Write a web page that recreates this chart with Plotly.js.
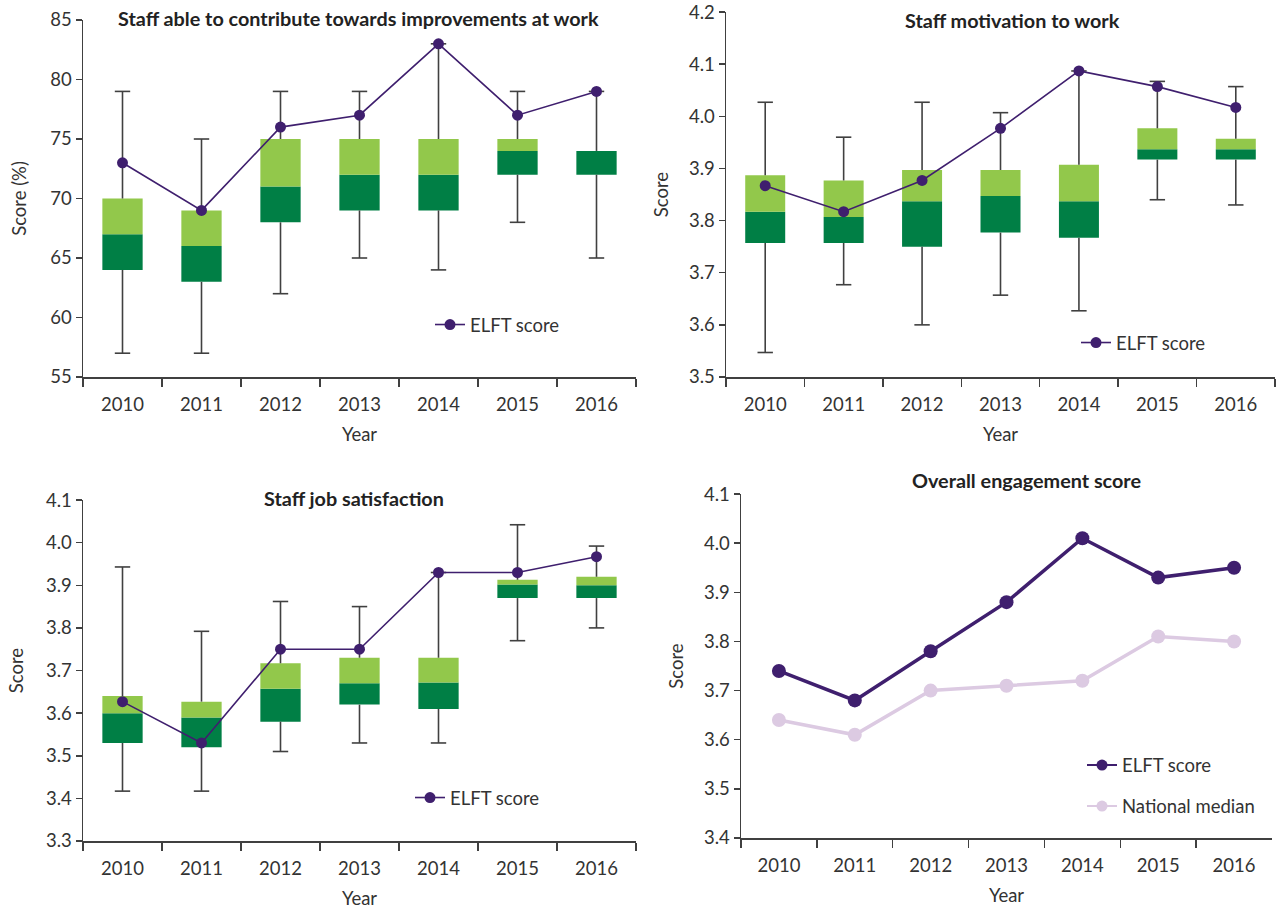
<!DOCTYPE html>
<html><head><meta charset="utf-8">
<script src="https://cdn.plot.ly/plotly-3.0.1.min.js"></script>
<style>html,body{margin:0;padding:0;background:#fff}</style>
</head><body><div id="chart" style="width:1287px;height:909px"></div>
<script>
// ---------- data ----------
const years = ['2010','2011','2012','2013','2014','2015','2016'];

// Panel 1: Staff able to contribute towards improvements at work (%)
const p1Elft = [73, 69, 76, 77, 83, 77, 79];
const p1Min  = [57, 57, 62, 65, 64, 68, 65];
const p1Q1   = [64, 63, 68, 69, 69, 72, 72];
const p1Med  = [67, 66, 71, 72, 72, 74, 74];
const p1Q3   = [70, 69, 75, 75, 75, 75, 74];
const p1Max  = [79, 75, 79, 79, 83, 79, 79];

// Panel 2: Staff motivation to work
const p2Elft = [3.867, 3.817, 3.877, 3.977, 4.087, 4.057, 4.017];
const p2Min  = [3.547, 3.677, 3.600, 3.657, 3.627, 3.840, 3.830];
const p2Q1   = [3.757, 3.757, 3.750, 3.777, 3.767, 3.917, 3.917];
const p2Med  = [3.817, 3.807, 3.837, 3.847, 3.837, 3.937, 3.937];
const p2Q3   = [3.887, 3.877, 3.897, 3.897, 3.907, 3.977, 3.957];
const p2Max  = [4.027, 3.960, 4.027, 4.007, 4.087, 4.067, 4.057];

// Panel 3: Staff job satisfaction
const p3Elft = [3.627, 3.530, 3.750, 3.750, 3.930, 3.930, 3.967];
const p3Min  = [3.417, 3.417, 3.510, 3.530, 3.530, 3.770, 3.800];
const p3Q1   = [3.530, 3.520, 3.580, 3.620, 3.610, 3.870, 3.870];
const p3Med  = [3.600, 3.590, 3.657, 3.670, 3.672, 3.902, 3.900];
const p3Q3   = [3.640, 3.627, 3.717, 3.730, 3.730, 3.913, 3.920];
const p3Max  = [3.943, 3.792, 3.862, 3.850, 3.930, 4.042, 3.992];

// Panel 4: Overall engagement score
const p4Elft     = [3.74, 3.68, 3.78, 3.88, 4.01, 3.93, 3.95];
const p4National = [3.64, 3.61, 3.70, 3.71, 3.72, 3.81, 3.80];

// ---------- styles ----------
const DARK_GREEN = '#007f45';
const LIGHT_GREEN = '#92c84b';
const PURPLE = '#3f1f6e';
const LAVENDER = '#dccae2';
const AXIS = '#404040';
const TEXT = '#333333';
const FONT = 'Lato, "Open Sans", sans-serif';
const FS = 18.5;

function boxTraces(n, q1, med, q3, mn, mx, elft, legendName) {
  const xa = n === 1 ? 'x' : 'x' + n;
  const ya = n === 1 ? 'y' : 'y' + n;
  const wx = [], wy = [];
  years.forEach((yr, i) => {
    wx.push(yr, yr, null, yr, yr, null);
    wy.push(mn[i], q1[i], null, q3[i], mx[i], null);
  });
  return [
    {type:'bar', x: years, base: q1, y: med.map((m,i)=>m-q1[i]), width:0.51,
     marker:{color:DARK_GREEN}, xaxis:xa, yaxis:ya, showlegend:false, hoverinfo:'skip'},
    {type:'bar', x: years, base: med, y: q3.map((m,i)=>m-med[i]), width:0.51,
     marker:{color:LIGHT_GREEN}, xaxis:xa, yaxis:ya, showlegend:false, hoverinfo:'skip'},
    {type:'scatter', mode:'lines', x: wx, y: wy, connectgaps:false,
     line:{color:AXIS, width:1.6}, xaxis:xa, yaxis:ya, showlegend:false, hoverinfo:'skip'},
    {type:'scatter', mode:'markers', x: years.concat(years), y: mn.concat(mx),
     marker:{symbol:'line-ew', size:11, line:{color:AXIS, width:1.6}},
     xaxis:xa, yaxis:ya, showlegend:false, hoverinfo:'skip'},
    {type:'scatter', mode:'lines+markers', x: years, y: elft, name:'ELFT score',
     line:{color:PURPLE, width:1.6}, marker:{color:PURPLE, size:11},
     xaxis:xa, yaxis:ya, legend: legendName}
  ];
}

const data = [].concat(
  boxTraces(1, p1Q1, p1Med, p1Q3, p1Min, p1Max, p1Elft, 'legend'),
  boxTraces(2, p2Q1, p2Med, p2Q3, p2Min, p2Max, p2Elft, 'legend2'),
  boxTraces(3, p3Q1, p3Med, p3Q3, p3Min, p3Max, p3Elft, 'legend3'),
  [
    {type:'scatter', mode:'lines+markers', x: years, y: p4Elft, name:'ELFT score',
     line:{color:PURPLE, width:3.5}, marker:{color:PURPLE, size:14},
     xaxis:'x4', yaxis:'y4', showlegend:false},
    {type:'scatter', mode:'lines+markers', x: years, y: p4National, name:'National median',
     line:{color:LAVENDER, width:3.5}, marker:{color:LAVENDER, size:14},
     xaxis:'x4', yaxis:'y4', showlegend:false},
    // legend entries (thinner symbols, as in the original key)
    {type:'scatter', mode:'lines+markers', x:[null], y:[null], name:'ELFT score',
     line:{color:PURPLE, width:2}, marker:{color:PURPLE, size:11},
     xaxis:'x4', yaxis:'y4', legend:'legend4', legendgroup:'a'},
    {type:'scatter', mode:'lines+markers', x:[null], y:[null], name:'National median',
     line:{color:LAVENDER, width:2}, marker:{color:LAVENDER, size:11},
     xaxis:'x4', yaxis:'y4', legend:'legend4', legendgroup:'b'}
  ]
);

const W = 1287, H = 909;
function xAxis(l, r, anchor) {
  return {type:'category', domain:[l/W, r/W], anchor: anchor, range:[-0.5, 6.5],
    showline:true, linecolor:AXIS, linewidth:1.5, ticks:'outside', tickson:'boundaries',
    ticklen:8, tickwidth:1.5, tickcolor:AXIS, showgrid:false, zeroline:false,
    ticklabelstandoff: 10,
    tickfont:{family:FONT, size:FS, color:TEXT}, fixedrange:true,
    title:{text:'Year', font:{family:FONT, size:FS, color:TEXT}, standoff:14}};
}
function yAxis(top, bot, anchor, range, dtick, fmt, title, standoff) {
  return {domain:[1-bot/H, 1-top/H], anchor: anchor, range: range, dtick: dtick, tick0: range[0],
    tickformat: fmt, showline:true, linecolor:AXIS, linewidth:1.5, ticks:'outside',
    ticklen:6, tickwidth:1.5, tickcolor:AXIS, showgrid:false, zeroline:false,
    ticklabeloverflow:'allow',
    tickfont:{family:FONT, size:FS, color:TEXT}, fixedrange:true,
    title:{text:title, font:{family:FONT, size:FS, color:TEXT}, standoff: standoff}};
}
function legendAt(x, y) {
  return {x: x/W, y: 1-y/H, xanchor:'left', yanchor:'middle', bgcolor:'rgba(0,0,0,0)',
    font:{family:FONT, size:FS, color:TEXT}, tracegroupgap:14, itemsizing:'trace'};
}
function titleAnn(text, x, y) {
  return {text:'<b>'+text+'</b>', x: x/W, y: 1-y/H, xref:'paper', yref:'paper',
    xanchor:'center', yanchor:'middle', showarrow:false,
    font:{family:FONT, size:19.8, color:'#222'}};
}

const layout = {
  width: W, height: H, margin:{l:0, r:0, t:0, b:0},
  paper_bgcolor:'#fff', plot_bgcolor:'rgba(0,0,0,0)',
  barmode:'overlay', showlegend:true,
  font:{family:FONT, color:TEXT},
  xaxis:  xAxis(83, 636, 'y'),
  yaxis:  yAxis(20, 377, 'x', [55, 85.001], 5, 'd', 'Score (%)', 19),
  xaxis2: xAxis(726, 1275, 'y2'),
  yaxis2: yAxis(12, 377, 'x2', [3.5, 4.2001], 0.1, '.1f', 'Score', 15),
  xaxis3: xAxis(83, 636, 'y3'),
  yaxis3: yAxis(500, 841, 'x3', [3.3, 4.1001], 0.1, '.1f', 'Score', 17),
  xaxis4: xAxis(741, 1272, 'y4'),
  yaxis4: yAxis(494, 838, 'x4', [3.4, 4.1001], 0.1, '.1f', 'Score', 15),
  legend:  legendAt(430, 325),
  legend2: legendAt(1076, 343),
  legend3: legendAt(410, 798),
  legend4: legendAt(1082, 786),
  annotations: [
    titleAnn('Staff able to contribute towards improvements at work', 358, 18),
    titleAnn('Staff motivation to work', 1012, 20),
    titleAnn('Staff job satisfaction', 354, 498),
    titleAnn('Overall engagement score', 1026, 480)
  ]
};

Plotly.newPlot('chart', data, layout, {displayModeBar:false, staticPlot:true});
</script>
</body></html>
